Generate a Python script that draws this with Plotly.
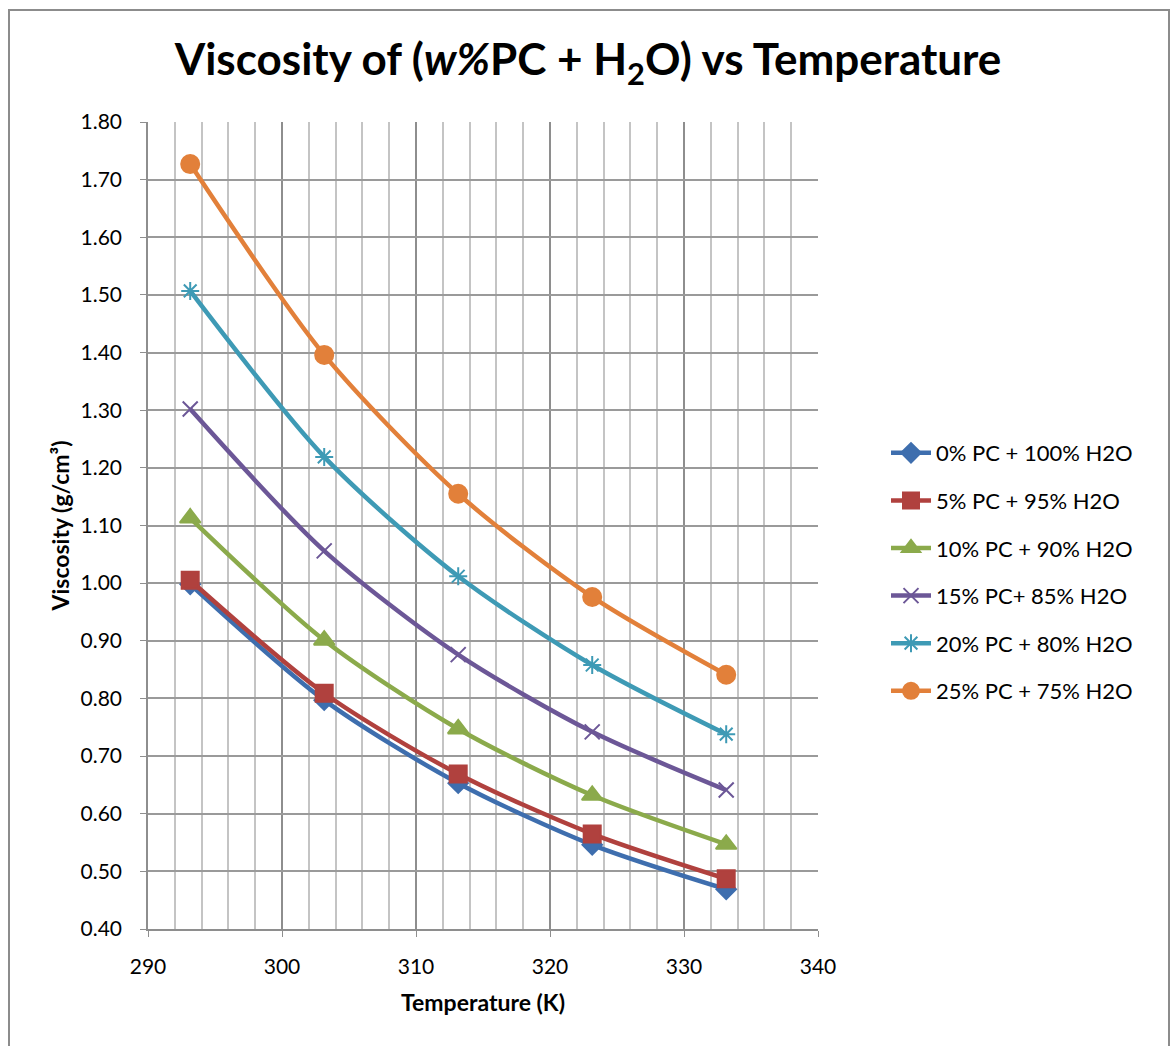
import plotly.graph_objects as go

temperature = [293.15, 303.15, 313.15, 323.15, 333.15]

series_names = [
    "0% PC + 100% H2O",
    "5% PC + 95% H2O",
    "10% PC + 90% H2O",
    "15% PC+ 85% H2O",
    "20% PC + 80% H2O",
    "25% PC + 75% H2O",
]
visc_0 = [0.998, 0.797, 0.653, 0.546, 0.469]
visc_5 = [1.005, 0.809, 0.669, 0.565, 0.487]
visc_10 = [1.113, 0.901, 0.747, 0.632, 0.547]
visc_15 = [1.302, 1.056, 0.876, 0.742, 0.641]
visc_20 = [1.507, 1.219, 1.012, 0.858, 0.738]
visc_25 = [1.727, 1.396, 1.155, 0.976, 0.841]
all_values = [visc_0, visc_5, visc_10, visc_15, visc_20, visc_25]

colors = ["#3E6EAE", "#B0413E", "#8BAA4B", "#6C5797", "#3E9AB5", "#E2803A"]
symbols = ["diamond", "square", "triangle-up", "x-thin-open", "asterisk-open", "circle"]
sizes = [15, 17, 18, 15, 15, 18]

fig = go.Figure()
for i, (name, vals) in enumerate(zip(series_names, all_values)):
    fig.add_trace(go.Scatter(
        x=temperature, y=vals, name=name, mode="lines+markers",
        line=dict(color=colors[i], width=4.5, shape="spline", smoothing=0.8),
        marker=dict(symbol=symbols[i], size=sizes[i], color=colors[i],
                    line=dict(color=colors[i], width=2)),
        legendgroup=f"g{i}",
    ))

L, R, T, B = 148, 358, 122, 117
W, H = 1176, 1046
pw = W - L - R
ph = H - T - B

def px_to_paper_x(px):
    return (px - L) / pw

def px_to_paper_y(py):
    return 1 - (py - T) / ph

fig.add_shape(type="rect", xref="paper", yref="paper",
              x0=px_to_paper_x(9), x1=px_to_paper_x(1169),
              y0=px_to_paper_y(1060), y1=px_to_paper_y(10),
              line=dict(color="#8C8C8C", width=2), layer="below")

font_family = "Lato, 'Open Sans', sans-serif"

fig.update_layout(
    width=W, height=H,
    margin=dict(l=L, r=R, t=T, b=B),
    paper_bgcolor="white", plot_bgcolor="white",
    font=dict(family=font_family, color="#000000", size=21),
    title=dict(
        text="<b>Viscosity of (<i>w%</i>PC + H<sub>2</sub>O) vs Temperature</b>",
        x=0.5, xref="container", xanchor="center",
        y=1 - 60 / H, yref="container", yanchor="middle",
        font=dict(size=44, family=font_family, color="#000000"),
    ),
    xaxis=dict(
        range=[290, 340], dtick=10, tick0=290,
        showgrid=True, gridcolor="#8E8E8E", gridwidth=1.5,
        minor=dict(dtick=2, showgrid=True, gridcolor="#C4C4C4", gridwidth=1.5),
        showline=True, linecolor="#8E8E8E", linewidth=1.5,
        ticks="outside", ticklen=6, tickcolor="#8E8E8E",
        tickfont=dict(size=21), ticklabelstandoff=12,
        zeroline=False,
        title=dict(text="<b>Temperature (K)</b>", font=dict(size=23), standoff=18),
    ),
    yaxis=dict(
        range=[0.4, 1.8], dtick=0.1, tick0=0.4, tickformat=".2f",
        showgrid=True, gridcolor="#9A9A9A", gridwidth=1.5,
        showline=True, linecolor="#8E8E8E", linewidth=1.5,
        ticks="outside", ticklen=6, tickcolor="#8E8E8E",
        tickfont=dict(size=21), ticklabelstandoff=14,
        zeroline=False,
        title=dict(text="<b>Viscosity (g/cm³)</b>", font=dict(size=23), standoff=4),
    ),
    legend=dict(
        x=px_to_paper_x(886), y=px_to_paper_y(432), xanchor="left", yanchor="top",
        font=dict(size=22), tracegroupgap=16, traceorder="grouped",
        bgcolor="rgba(0,0,0,0)", itemwidth=40,
    ),
    showlegend=True,
)

fig.write_html("out.html")
